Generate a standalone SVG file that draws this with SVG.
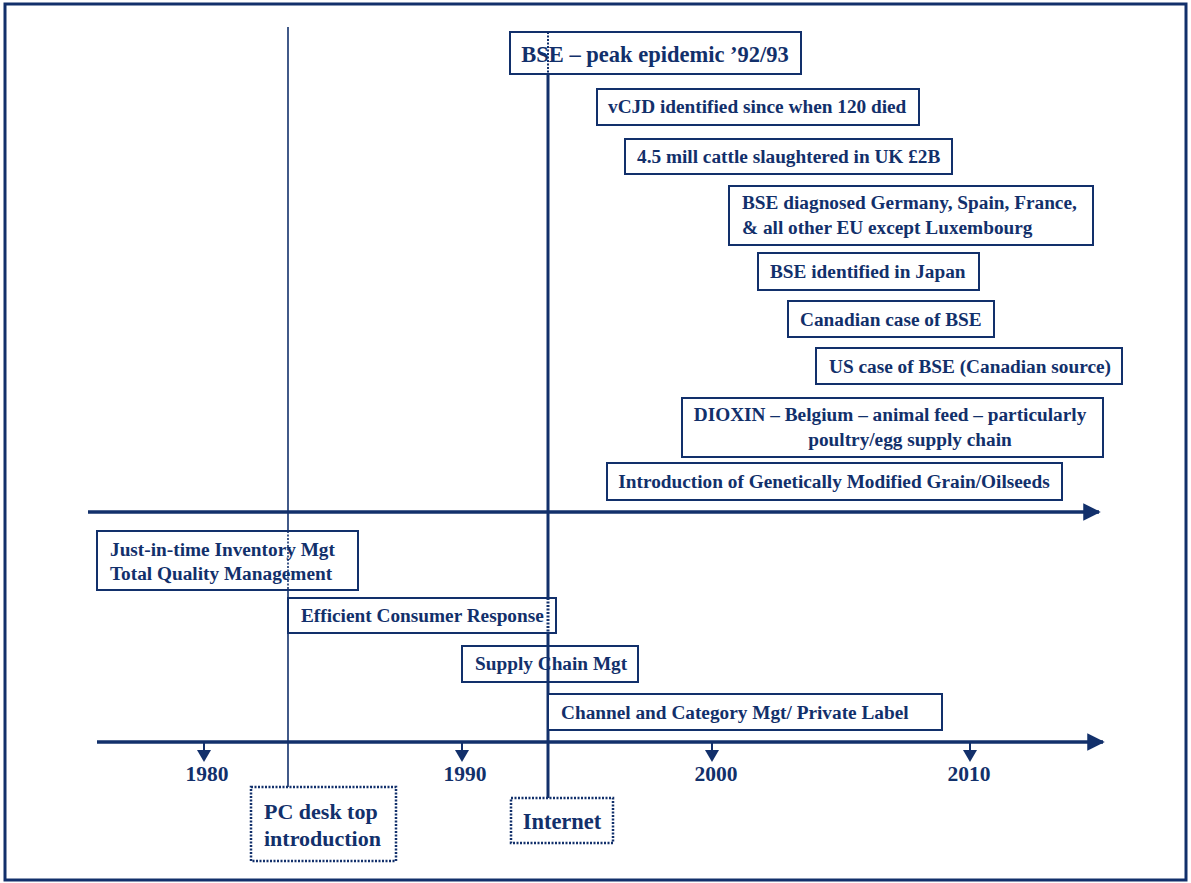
<svg xmlns="http://www.w3.org/2000/svg" width="1191" height="883" viewBox="0 0 1191 883">
<defs>
<style>
.box{fill:#fff;stroke:#12306b;stroke-width:2}
.dbox{fill:#fff;stroke:#12306b;stroke-width:2.5;stroke-dasharray:2 1.5}
.t{font-family:"Liberation Serif","Times New Roman",serif;font-weight:bold;fill:#12306b;font-size:19.3px}
.yr{font-size:21.5px}
.ax{stroke:#12306b;stroke-width:3.5;fill:none}
.tk{fill:#12306b}
</style>
<marker id="ah" viewBox="0 0 10 10" refX="9" refY="5" markerWidth="5" markerHeight="5" markerUnits="strokeWidth" orient="auto">
<path d="M0,0 L10,5 L0,10 z" fill="#12306b"/>
</marker>
</defs>
<rect x="0" y="0" width="1191" height="883" fill="#fff"/>
<rect x="5" y="4" width="1181" height="876" fill="none" stroke="#12306b" stroke-width="3"/>

<g id="connectors">
<line class="ax" x1="88" y1="512" x2="1099" y2="512" marker-end="url(#ah)"/>
<line class="ax" x1="97" y1="742" x2="1103" y2="742" marker-end="url(#ah)"/>
<line x1="288" y1="27" x2="288" y2="787" stroke="#12306b" stroke-width="1.6"/>
<line x1="548" y1="36" x2="548" y2="798" stroke="#12306b" stroke-width="3"/>
<g id="ticks">
<line x1="204" y1="742" x2="204" y2="752" stroke="#12306b" stroke-width="2"/>
<path class="tk" d="M197,750 L211,750 L204,762 z"/>
<line x1="462" y1="742" x2="462" y2="752" stroke="#12306b" stroke-width="2"/>
<path class="tk" d="M455,750 L469,750 L462,762 z"/>
<line x1="712" y1="742" x2="712" y2="760" stroke="#12306b" stroke-width="2"/>
<path class="tk" d="M705,750 L719,750 L712,762 z"/>
<line x1="970" y1="742" x2="970" y2="752" stroke="#12306b" stroke-width="2"/>
<path class="tk" d="M963,750 L977,750 L970,762 z"/>
</g>
</g>

<g id="n-bse-peak">
<rect class="box" x="510" y="32" width="291" height="42"/>
<text class="t" x="655" y="62" text-anchor="middle" style="font-size:22.5px">BSE – peak epidemic ’92/93</text>
</g>
<line x1="548" y1="32" x2="548" y2="74" stroke="#12306b" stroke-width="2" stroke-dasharray="2 1.5"/>
<g id="n-vcjd">
<rect class="box" x="597" y="89" width="322" height="36"/>
<text class="t" x="608" y="113">vCJD identified since when 120 died</text>
</g>
<g id="n-cattle">
<rect class="box" x="625" y="139" width="327" height="35"/>
<text class="t" x="637" y="163">4.5 mill cattle slaughtered in UK £2B</text>
</g>
<g id="n-eu">
<rect class="box" x="729" y="186" width="364" height="59"/>
<text class="t" x="742" y="209">BSE diagnosed Germany, Spain, France,</text>
<text class="t" x="742" y="234">&amp; all other EU except Luxembourg</text>
</g>
<g id="n-japan">
<rect class="box" x="758" y="253" width="221" height="37"/>
<text class="t" x="770" y="278">BSE identified in Japan</text>
</g>
<g id="n-canada">
<rect class="box" x="788" y="301" width="206" height="36"/>
<text class="t" x="800" y="326">Canadian case of BSE</text>
</g>
<g id="n-us">
<rect class="box" x="816" y="348" width="306" height="36"/>
<text class="t" x="829" y="373">US case of BSE (Canadian source)</text>
</g>
<g id="n-dioxin">
<rect class="box" x="682" y="398" width="421" height="59"/>
<text class="t" x="890" y="421" text-anchor="middle">DIOXIN – Belgium – animal feed – particularly</text>
<text class="t" x="910" y="446" text-anchor="middle">poultry/egg supply chain</text>
</g>
<g id="n-gm">
<rect class="box" x="607" y="463" width="455" height="37"/>
<text class="t" x="834" y="488" text-anchor="middle">Introduction of Genetically Modified Grain/Oilseeds</text>
</g>

<g id="n-jit">
<rect class="box" x="97" y="531" width="261" height="59"/>
<text class="t" x="110" y="556">Just-in-time Inventory Mgt</text>
<text class="t" x="110" y="580">Total Quality Management</text>
</g>
<line x1="288" y1="531" x2="288" y2="590" stroke="#12306b" stroke-width="1.6" stroke-dasharray="2 1.5"/>
<g id="n-ecr">
<rect class="box" x="288" y="598" width="268" height="35"/>
<text class="t" x="301" y="622">Efficient Consumer Response</text>
</g>
<line x1="548" y1="598" x2="548" y2="633" stroke="#12306b" stroke-width="3" stroke-dasharray="2 1.5"/>
<g id="n-scm">
<rect class="box" x="462" y="646" width="176" height="36"/>
<text class="t" x="475" y="670">Supply Chain Mgt</text>
</g>
<line x1="548" y1="646" x2="548" y2="682" stroke="#12306b" stroke-width="3"/>
<g id="n-channel">
<rect class="box" x="548" y="694" width="394" height="36"/>
<text class="t" x="561" y="719">Channel and Category Mgt/ Private Label</text>
</g>

<g id="years">
<text class="t yr" x="207" y="781" text-anchor="middle">1980</text>
<text class="t yr" x="465" y="781" text-anchor="middle">1990</text>
<text class="t yr" x="716" y="781" text-anchor="middle">2000</text>
<text class="t yr" x="969" y="781" text-anchor="middle">2010</text>
</g>
<g id="n-pc">
<rect class="dbox" x="251" y="787" width="145" height="74"/>
<text class="t" x="264" y="819" style="font-size:22px">PC desk top</text>
<text class="t" x="264" y="846" style="font-size:22px">introduction</text>
</g>
<g id="n-internet">
<rect class="dbox" x="511" y="798" width="102" height="45"/>
<text class="t" x="562" y="829" text-anchor="middle" style="font-size:22.5px">Internet</text>
</g>
</svg>
